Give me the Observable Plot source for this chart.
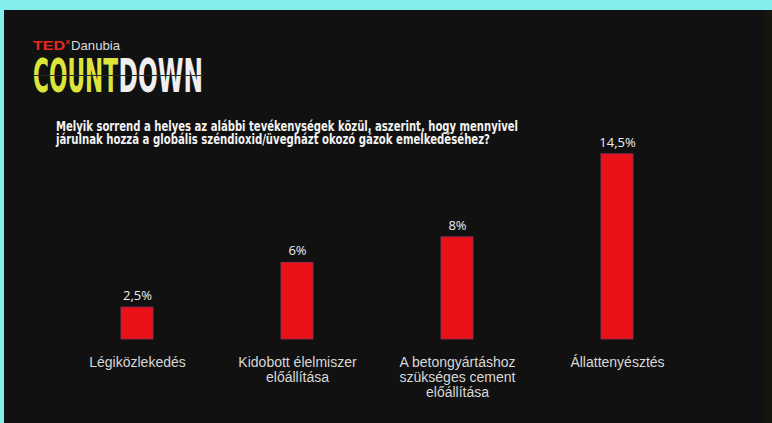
<!DOCTYPE html>
<html><head><meta charset="utf-8">
<script src="https://cdn.jsdelivr.net/npm/d3@7"></script>
<script src="https://cdn.jsdelivr.net/npm/@observablehq/plot@0.6"></script>
<style>
html,body{margin:0;padding:0;width:772px;height:423px;overflow:hidden;background:#84eeec;}
#slide{position:absolute;left:4px;top:10px;width:768px;height:413px;background:#111111;}
#edge{position:absolute;left:764px;top:10px;width:8px;height:413px;background:#15170f;}
#header{position:absolute;left:0;top:0;}
#chart{position:absolute;left:0;top:0;}
</style></head>
<body>
<div id="slide"></div>
<div id="edge"></div>
<svg id="header" width="772" height="150" xmlns="http://www.w3.org/2000/svg">
  <text x="33" y="49.5" font-family="Liberation Sans, Arial, sans-serif" font-weight="bold" font-size="13.5" fill="#e62b1e" textLength="32" lengthAdjust="spacingAndGlyphs">TED</text>
  <text x="65.5" y="44" font-family="Liberation Sans, Arial, sans-serif" font-weight="bold" font-size="8" fill="#e62b1e">x</text>
  <text x="71" y="49.5" font-family="Liberation Sans, Arial, sans-serif" font-size="13.5" fill="#dddddd" textLength="49" lengthAdjust="spacingAndGlyphs">Danubia</text>
  <text x="33" y="92" font-family="DejaVu Sans Condensed, DejaVu Sans, sans-serif" font-weight="bold" font-size="46" fill="#dde53a" textLength="85" lengthAdjust="spacingAndGlyphs">COUNT</text>
  <text x="118.5" y="92" font-family="DejaVu Sans Condensed, DejaVu Sans, sans-serif" font-weight="bold" font-size="46" fill="#efefef" textLength="84.5" lengthAdjust="spacingAndGlyphs">DOWN</text>
  <line x1="33" x2="203" y1="75.5" y2="75.5" stroke="#2a2a2a" stroke-width="1"/>
  <text x="56" y="131" font-family="DejaVu Sans Condensed, DejaVu Sans, sans-serif" font-weight="bold" font-size="14.5" fill="#f2f2f2" textLength="462" lengthAdjust="spacingAndGlyphs">Melyik sorrend a helyes az alábbi tevékenységek közül, aszerint, hogy mennyivel</text>
  <text x="56" y="144" font-family="DejaVu Sans Condensed, DejaVu Sans, sans-serif" font-weight="bold" font-size="14.5" fill="#f2f2f2" textLength="434" lengthAdjust="spacingAndGlyphs">járulnak hozzá a globális széndioxid/üvegházt okozó gázok emelkedéséhez?</text>
</svg>
<div id="chart"></div>
<script>
const categories = [
  "Légiközlekedés",
  "Kidobott élelmiszer előállítása",
  "A betongyártáshoz szükséges cement előállítása",
  "Állattenyésztés"
];
const categoryLabels = [
  "Légiközlekedés",
  "Kidobott élelmiszer\nelőállítása",
  "A betongyártáshoz\nszükséges cement\nelőállítása",
  "Állattenyésztés"
];
const values = [2.5, 6, 8, 14.5];
const valueLabels = ["2,5%", "6%", "8%", "14,5%"];

const data = categories.map((c, i) => ({
  category: c,
  label: categoryLabels[i],
  value: values[i],
  valueLabel: valueLabels[i]
}));

const chart = Plot.plot({
  width: 772,
  height: 423,
  x: {domain: categories, range: [39, 715], paddingInner: 0.8012, paddingOuter: 0.5, axis: null},
  y: {domain: [0, 15], range: [339, 147.45], axis: null},
  style: {background: "transparent", overflow: "visible"},
  marks: [
    Plot.barY(data, {x: "category", y: "value", fill: "#ea1218", stroke: "#8c2c50", strokeWidth: 1}),
    Plot.text(data, {x: "category", y: "value", text: "valueLabel", lineAnchor: "bottom", dy: -7.5, fill: "#eeeeee", fontSize: 13, fontFamily: "Open Sans"}),
    Plot.text(data, {x: "category", y: () => 0, text: "label", lineAnchor: "top", dy: 17, fill: "#d8d8d8", fontSize: 14, lineHeight: 1.07, fontFamily: "Liberation Sans"})
  ]
});
document.getElementById("chart").appendChild(chart);
</script>
</body></html>
